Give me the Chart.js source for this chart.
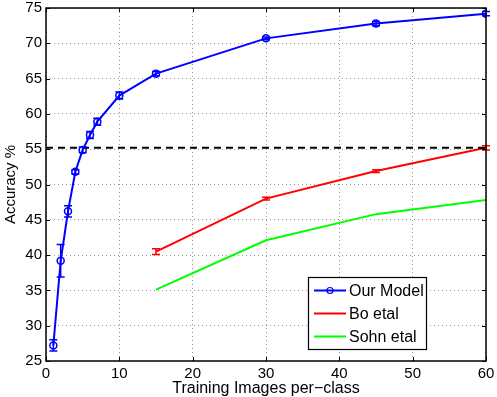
<!DOCTYPE html>
<html>
<head>
<meta charset="utf-8">
<script src="https://cdn.jsdelivr.net/npm/chart.js@4/dist/chart.umd.min.js"></script>
<style>
html, body { margin: 0; padding: 0; background: #fff; }
#wrap { width: 497px; height: 397px; }
</style>
</head>
<body>
<div id="wrap"><canvas id="accuracyChart" width="497" height="397"></canvas></div>
<script>
// values
var ourX = [1, 2, 3, 4, 5, 6, 7, 10, 15, 30, 45, 60];
var ourY = [27.2, 39.2, 46.2, 51.8, 54.9, 57.0, 58.9, 62.6, 65.7, 70.7, 72.8, 74.2];
var ourErr = [0.8, 2.3, 0.8, 0.3, 0.4, 0.5, 0.5, 0.5, 0.3, 0.2, 0.3, 0.3];
var boX = [15, 30, 45, 60];
var boY = [40.5, 48.0, 51.9, 55.2];
var boErr = [0.4, 0.2, 0.2, 0.3];
var sohnX = [15, 30, 45, 60];
var sohnY = [35.1, 42.1, 45.8, 47.8];
var baseX = [0, 60];
var baseY = [55.2, 55.2];
var xRange = [0, 60];
var yRange = [25, 75];
var legendOrder = ['Our Model', 'Bo etal', 'Sohn etal'];

function pts(xs, ys) {
  return xs.map(function (x, i) { return { x: x, y: ys[i] }; });
}

var FONT = "'Liberation Sans', Arial, Helvetica, sans-serif";

// error bars drawn through the scales
var errorBars = {
  id: 'errorBars',
  afterDatasetsDraw: function (chart) {
    var ctx = chart.ctx, xs = chart.scales.x, ys = chart.scales.y;
    chart.data.datasets.forEach(function (ds) {
      if (!ds.errors) return;
      ctx.save();
      ctx.strokeStyle = ds.borderColor;
      ctx.lineWidth = 1.5;
      ds.data.forEach(function (p, i) {
        var e = ds.errors[i];
        var px = xs.getPixelForValue(p.x);
        var top = ys.getPixelForValue(p.y + e);
        var bot = ys.getPixelForValue(p.y - e);
        ctx.beginPath();
        ctx.moveTo(px, top); ctx.lineTo(px, bot);
        ctx.moveTo(px - 4, top); ctx.lineTo(px + 4, top);
        ctx.moveTo(px - 4, bot); ctx.lineTo(px + 4, bot);
        ctx.stroke();
      });
      ctx.restore();
    });
  }
};

// matlab style box with inward ticks, plus legend inside the axes
var boxAndLegend = {
  id: 'boxAndLegend',
  afterDraw: function (chart) {
    var ctx = chart.ctx, a = chart.chartArea;
    var xs = chart.scales.x, ys = chart.scales.y;
    ctx.save();
    ctx.strokeStyle = '#000';
    ctx.lineWidth = 1.5;
    ctx.strokeRect(a.left, a.top, a.right - a.left, a.bottom - a.top);
    ctx.lineWidth = 1;
    ctx.beginPath();
    xs.ticks.forEach(function (t) {
      var px = Math.round(xs.getPixelForValue(t.value)) + 0.5;
      ctx.moveTo(px, a.bottom); ctx.lineTo(px, a.bottom - 4);
      ctx.moveTo(px, a.top); ctx.lineTo(px, a.top + 4);
    });
    ys.ticks.forEach(function (t) {
      var py = Math.round(ys.getPixelForValue(t.value)) + 0.5;
      ctx.moveTo(a.left, py); ctx.lineTo(a.left + 4, py);
      ctx.moveTo(a.right, py); ctx.lineTo(a.right - 4, py);
    });
    ctx.stroke();

    // legend
    var bw = 118, bh = 72;
    var bx = a.right - 60 - bw, by = a.bottom - 12 - bh;
    ctx.fillStyle = '#fff';
    ctx.fillRect(bx, by, bw, bh);
    ctx.strokeStyle = '#000';
    ctx.lineWidth = 1.2;
    ctx.strokeRect(bx + 0.5, by + 0.5, bw, bh);
    ctx.font = '16px ' + FONT;
    ctx.textBaseline = 'middle';
    legendOrder.forEach(function (name, i) {
      var d = chart.data.datasets.find(function (ds) { return ds.label === name; });
      var cy = by + 13.5 + i * 23;
      ctx.strokeStyle = d.borderColor;
      ctx.lineWidth = 2;
      ctx.beginPath();
      ctx.moveTo(bx + 6, cy); ctx.lineTo(bx + 38, cy);
      ctx.stroke();
      if (d.pointRadius > 0) {
        ctx.lineWidth = 1.2;
        ctx.beginPath();
        ctx.arc(bx + 22, cy, 3, 0, Math.PI * 2);
        ctx.stroke();
      }
      ctx.fillStyle = '#000';
      ctx.fillText(d.label, bx + 41, cy + 1);
    });
    ctx.restore();
  }
};

var chart = new Chart(document.getElementById('accuracyChart'), {
  type: 'line',
  data: {
    datasets: [{
      label: 'Baseline',
      data: pts(baseX, baseY),
      borderColor: '#000',
      borderWidth: 2,
      borderDash: [7, 5],
      pointRadius: 0
    }, {
      label: 'Sohn etal',
      data: pts(sohnX, sohnY),
      borderColor: 'rgb(0,255,0)',
      borderWidth: 2,
      pointRadius: 0
    }, {
      label: 'Bo etal',
      data: pts(boX, boY),
      borderColor: 'rgb(255,0,0)',
      borderWidth: 2,
      pointRadius: 0,
      errors: boErr
    }, {
      label: 'Our Model',
      data: pts(ourX, ourY),
      borderColor: 'rgb(0,0,255)',
      borderWidth: 2,
      pointRadius: 3.5,
      pointBorderWidth: 1.5,
      pointBackgroundColor: 'rgba(0,0,0,0)',
      pointBorderColor: 'rgb(0,0,255)',
      errors: ourErr
    }]
  },
  options: {
    responsive: false,
    animation: false,
    devicePixelRatio: 1,
    layout: { padding: { left: 0, right: 11, top: 8, bottom: 0 } },
    plugins: {
      legend: { display: false },
      tooltip: { enabled: false }
    },
    scales: {
      x: {
        type: 'linear',
        min: xRange[0],
        max: xRange[1],
        afterFit: function (s) { s.height = 36; s.paddingLeft = 0; s.paddingRight = 0; },
        ticks: { stepSize: 10, padding: 4, color: '#000', font: { family: FONT, size: 15 } },
        grid: { color: '#999', drawTicks: false, lineWidth: 1 },
        border: { display: false, dash: [1, 3] },
        title: {
          display: true,
          text: 'Training Images per\u2212class',
          color: '#000',
          padding: 0,
          font: { family: FONT, size: 16, lineHeight: 1 }
        }
      },
      y: {
        type: 'linear',
        min: yRange[0],
        max: yRange[1],
        afterFit: function (s) { s.width = 46; s.paddingTop = 0; s.paddingBottom = 0; },
        ticks: { stepSize: 5, padding: 4, color: '#000', font: { family: FONT, size: 15 } },
        grid: { color: '#999', drawTicks: false, lineWidth: 1 },
        border: { display: false, dash: [1, 3] },
        title: {
          display: true,
          text: 'Accuracy %',
          color: '#000',
          padding: { top: 2, bottom: 0 },
          font: { family: FONT, size: 15 }
        }
      }
    }
  },
  plugins: [errorBars, boxAndLegend]
});
</script>
</body>
</html>
